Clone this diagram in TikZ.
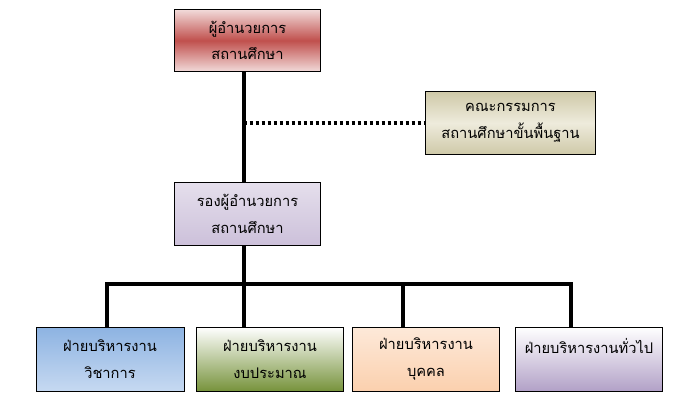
\documentclass[tikz,border=0pt]{standalone}
\usepackage{fontspec}
\newfontfamily\thaifont[Script=Thai]{Loma}
\usepackage{xcolor}
\usepackage{tikz}
\usetikzlibrary{positioning,calc}

\definecolor{redmid}{HTML}{C0504D}
\definecolor{redlight}{HTML}{F2DCDB}
\definecolor{olivemid}{HTML}{EEEBDC}
\definecolor{oliveedge}{HTML}{CFC9A8}
\definecolor{lavtop}{HTML}{E5DFEC}
\definecolor{lavbot}{HTML}{CCC0DA}
\definecolor{bluetop}{HTML}{8DB3E2}
\definecolor{bluebot}{HTML}{C6D9F1}
\definecolor{greenbot}{HTML}{77933C}
\definecolor{peachtop}{HTML}{FDE9D9}
\definecolor{peachbot}{HTML}{FBD0AE}
\definecolor{purplebot}{HTML}{B2A1C7}

\tikzset{
  unit/.style={draw=black, line width=0.6pt, align=center,
    font=\thaifont\fontsize{11}{20}\selectfont,
    minimum width=110pt, minimum height=47pt, inner sep=2pt},
  link/.style={line width=3pt},
  dotlink/.style={line width=3pt, dash pattern=on 2.25pt off 2.25pt}
}

\begin{document}
\begin{tikzpicture}[x=0.75pt, y=-0.75pt]
\useasboundingbox (0,0) rectangle (689,401);
% head and deputy
\node[unit, top color=redlight, bottom color=redlight, middle color=redmid] (head) at (247.5,40.5) {ผู้อำนวยการ\\สถานศึกษา};
\node[unit, minimum width=128pt, top color=oliveedge, bottom color=oliveedge, middle color=olivemid] (board) at (510.5,123) {คณะกรรมการ\\สถานศึกษาขั้นพื้นฐาน};
\node[unit, top color=lavtop, bottom color=lavbot] (deputy) at (247.5,214) {รองผู้อำนวยการ\\สถานศึกษา};
% departments
\node[unit, minimum height=48pt, minimum width=111pt, top color=bluetop, bottom color=bluebot] (acad) at (110,359) {ฝ่ายบริหารงาน\\วิชาการ};
\node[unit, minimum height=48pt, top color=white, bottom color=greenbot] (budget) at (270,359) {ฝ่ายบริหารงาน\\งบประมาณ};
\node[unit, minimum height=48pt, top color=peachtop, bottom color=peachbot] (staff) at (426,359) {ฝ่ายบริหารงาน\\บุคคล};
\node[unit, minimum height=48pt, top color=white, bottom color=purplebot] (general) at (589,359) {ฝ่ายบริหารงานทั่วไป\\\mbox{}};
% connectors
\coordinate (spine) at (243.5,284);
\coordinate (d1) at (107,284);
\coordinate (d3) at (402.5,284);
\coordinate (d4) at (571,284);
\draw[link] (head.south -| spine) -- (deputy.north -| spine);
\draw[dotlink] (spine |- board.west) -- (board.west);
\draw[link] (deputy.south -| spine) -- (budget.north -| spine);
\draw[link] (d1 |- acad.north) -- (d1) -- (d4) -- (d4 |- general.north);
\draw[link] (d3) -- (d3 |- staff.north);
\end{tikzpicture}
\end{document}
